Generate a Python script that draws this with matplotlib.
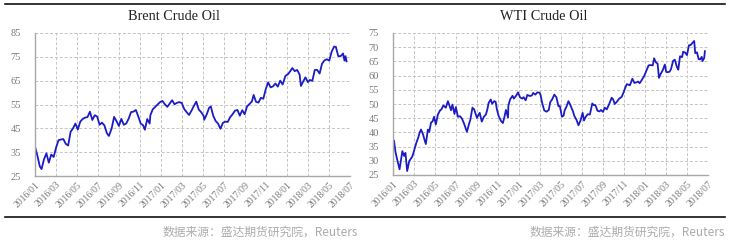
import matplotlib
matplotlib.use("Agg")
import matplotlib.pyplot as plt
import pandas as pd
from matplotlib.lines import Line2D

brent_dates = [
    "2016-01-01", "2016-01-08", "2016-01-15", "2016-01-20", "2016-01-27", "2016-02-03", "2016-02-10",
    "2016-02-17", "2016-02-24", "2016-03-02", "2016-03-09", "2016-03-16", "2016-03-23", "2016-03-30",
    "2016-04-06", "2016-04-13", "2016-04-20", "2016-04-27", "2016-05-04", "2016-05-11", "2016-05-18",
    "2016-05-25", "2016-06-01", "2016-06-08", "2016-06-15", "2016-06-22", "2016-06-29", "2016-07-06",
    "2016-07-13", "2016-07-20", "2016-07-27", "2016-08-02", "2016-08-10", "2016-08-17", "2016-08-24",
    "2016-08-31", "2016-09-07", "2016-09-14", "2016-09-21", "2016-09-28", "2016-10-05", "2016-10-12",
    "2016-10-19", "2016-10-26", "2016-11-02", "2016-11-09", "2016-11-14", "2016-11-21", "2016-11-28",
    "2016-11-30", "2016-12-07", "2016-12-14", "2016-12-21", "2016-12-28", "2017-01-04", "2017-01-11",
    "2017-01-18", "2017-01-25", "2017-02-01", "2017-02-08", "2017-02-15", "2017-02-22", "2017-03-01",
    "2017-03-08", "2017-03-15", "2017-03-22", "2017-03-29", "2017-04-05", "2017-04-12", "2017-04-19",
    "2017-04-26", "2017-05-03", "2017-05-05", "2017-05-12", "2017-05-19", "2017-05-24", "2017-05-31",
    "2017-06-07", "2017-06-14", "2017-06-21", "2017-06-28", "2017-07-05", "2017-07-12", "2017-07-19",
    "2017-07-26", "2017-08-02", "2017-08-09", "2017-08-16", "2017-08-23", "2017-08-30", "2017-09-06",
    "2017-09-13", "2017-09-20", "2017-09-25", "2017-10-02", "2017-10-09", "2017-10-16", "2017-10-23",
    "2017-10-30", "2017-11-06", "2017-11-13", "2017-11-20", "2017-11-27", "2017-12-04", "2017-12-11",
    "2017-12-18", "2017-12-26", "2018-01-03", "2018-01-10", "2018-01-15", "2018-01-22", "2018-01-29",
    "2018-02-05", "2018-02-09", "2018-02-16", "2018-02-22", "2018-03-01", "2018-03-07", "2018-03-14",
    "2018-03-21", "2018-03-28", "2018-04-04", "2018-04-11", "2018-04-18", "2018-04-25", "2018-05-02",
    "2018-05-09", "2018-05-16", "2018-05-21", "2018-05-28", "2018-06-04", "2018-06-11", "2018-06-15",
    "2018-06-18", "2018-06-21",
]
brent_values = [
    37.3, 33.5, 29.0, 27.9, 32.0, 34.5, 30.6,
    34.0, 33.0, 36.9, 40.0, 40.3, 40.5, 38.5,
    37.8, 43.5, 45.0, 47.0, 44.5, 47.8, 48.9,
    49.5, 49.7, 52.0, 48.5, 50.5, 49.9, 46.5,
    47.4, 46.2, 43.0, 41.8, 45.0, 49.8, 48.0,
    46.0, 49.0, 46.5, 47.0, 49.0, 51.8, 52.0,
    52.7, 50.0, 47.0, 46.3, 44.4, 48.9, 47.0,
    50.5, 53.0, 54.0, 55.0, 56.0, 56.5, 55.1,
    54.0, 55.4, 56.8, 55.1, 55.7, 56.0, 55.6,
    53.1, 51.8, 50.6, 52.4, 54.4, 56.2, 52.9,
    51.8, 50.3, 48.6, 50.8, 53.6, 54.2, 50.3,
    48.1, 47.0, 44.8, 47.3, 47.8, 47.7, 49.7,
    50.9, 52.4, 52.7, 50.3, 52.6, 50.9, 54.2,
    55.2, 56.3, 59.0, 56.1, 55.8, 57.8, 57.4,
    61.4, 64.3, 62.2, 62.6, 63.8, 62.5, 65.0,
    63.4, 67.0, 67.8, 69.2, 70.3, 69.0, 69.5,
    67.6, 62.8, 64.8, 66.4, 64.4, 65.3, 64.9,
    69.5, 69.5, 68.0, 72.1, 73.5, 74.0, 73.4,
    77.2, 79.3, 79.2, 75.3, 75.3, 76.4, 73.4,
    75.3, 73.1,
]

wti_dates = [
    "2016-01-04", "2016-01-08", "2016-01-13", "2016-01-20", "2016-01-28", "2016-02-02", "2016-02-06",
    "2016-02-11", "2016-02-17", "2016-02-26", "2016-03-04", "2016-03-09", "2016-03-14", "2016-03-18",
    "2016-03-22", "2016-03-28", "2016-04-01", "2016-04-05", "2016-04-11", "2016-04-15", "2016-04-20",
    "2016-04-25", "2016-04-29", "2016-05-04", "2016-05-10", "2016-05-16", "2016-05-20", "2016-05-26",
    "2016-06-02", "2016-06-08", "2016-06-13", "2016-06-17", "2016-06-21", "2016-06-27", "2016-07-01",
    "2016-07-07", "2016-07-13", "2016-07-19", "2016-07-25", "2016-08-02", "2016-08-08", "2016-08-12",
    "2016-08-18", "2016-08-23", "2016-08-31", "2016-09-08", "2016-09-14", "2016-09-20", "2016-09-26",
    "2016-09-30", "2016-10-04", "2016-10-10", "2016-10-14", "2016-10-20", "2016-10-24", "2016-10-28",
    "2016-11-02", "2016-11-09", "2016-11-14", "2016-11-18", "2016-11-23", "2016-11-29", "2016-11-30",
    "2016-12-05", "2016-12-12", "2016-12-16", "2016-12-23", "2016-12-28", "2017-01-03", "2017-01-09",
    "2017-01-13", "2017-01-19", "2017-01-24", "2017-01-31", "2017-02-06", "2017-02-10", "2017-02-16",
    "2017-02-22", "2017-02-28", "2017-03-03", "2017-03-08", "2017-03-14", "2017-03-21", "2017-03-27",
    "2017-03-31", "2017-04-06", "2017-04-12", "2017-04-18", "2017-04-24", "2017-04-28", "2017-05-04",
    "2017-05-09", "2017-05-12", "2017-05-17", "2017-05-23", "2017-05-29", "2017-06-05", "2017-06-09",
    "2017-06-15", "2017-06-21", "2017-06-27", "2017-07-03", "2017-07-07", "2017-07-12", "2017-07-18",
    "2017-07-24", "2017-07-31", "2017-08-04", "2017-08-09", "2017-08-15", "2017-08-21", "2017-08-25",
    "2017-08-31", "2017-09-05", "2017-09-11", "2017-09-18", "2017-09-25", "2017-09-29", "2017-10-04",
    "2017-10-10", "2017-10-17", "2017-10-24", "2017-10-30", "2017-11-03", "2017-11-08", "2017-11-13",
    "2017-11-17", "2017-11-24", "2017-11-30", "2017-12-05", "2017-12-11", "2017-12-15", "2017-12-21",
    "2017-12-28", "2018-01-04", "2018-01-10", "2018-01-16", "2018-01-22", "2018-01-26", "2018-01-31",
    "2018-02-05", "2018-02-09", "2018-02-14", "2018-02-20", "2018-02-26", "2018-03-02", "2018-03-07",
    "2018-03-12", "2018-03-16", "2018-03-22", "2018-03-27", "2018-04-02", "2018-04-06", "2018-04-11",
    "2018-04-17", "2018-04-20", "2018-04-26", "2018-05-01", "2018-05-07", "2018-05-11", "2018-05-17",
    "2018-05-22", "2018-05-25", "2018-05-30", "2018-06-04", "2018-06-08", "2018-06-13", "2018-06-15",
    "2018-06-20", "2018-06-22",
]
wti_values = [
    37.0, 33.2, 30.5, 27.0, 33.4, 31.7, 32.8,
    26.4, 29.9, 31.5, 34.5, 36.5, 38.1, 39.9,
    41.0, 39.3, 37.5, 35.9, 41.0, 40.2, 43.4,
    44.0, 45.5, 42.8, 46.3, 47.7, 48.1, 49.5,
    48.7, 51.0, 49.2, 47.8, 49.8, 46.5, 48.9,
    45.5, 45.7, 44.8, 43.0, 40.2, 42.9, 44.5,
    48.7, 48.1, 45.1, 46.9, 43.8, 45.5, 46.3,
    48.0, 50.4, 51.6, 50.1, 51.0, 50.8, 48.0,
    45.7, 44.0, 43.3, 45.1, 47.9, 45.2, 49.4,
    51.6, 52.9, 51.9, 53.0, 54.1, 52.3, 51.9,
    52.4, 51.3, 53.2, 52.8, 53.0, 53.9, 53.3,
    54.1, 54.0, 53.3, 50.3, 47.7, 47.3, 47.9,
    50.6, 51.7, 53.3, 52.4, 49.2, 49.3, 45.5,
    45.9, 47.8, 49.0, 51.0, 49.5, 47.4, 45.8,
    44.5, 42.5, 44.2, 46.9, 44.2, 45.5, 46.4,
    46.3, 50.2, 49.6, 49.6, 47.6, 47.4, 47.9,
    47.2, 48.7, 48.1, 50.0, 52.2, 51.7, 50.0,
    50.8, 51.9, 52.5, 54.2, 55.6, 57.0, 56.8,
    56.6, 58.9, 57.4, 57.6, 57.9, 57.3, 58.4,
    59.8, 61.9, 63.6, 63.7, 63.6, 66.1, 64.7,
    64.2, 59.2, 60.6, 61.9, 63.9, 61.3, 61.2,
    61.4, 62.3, 65.2, 65.6, 63.0, 62.1, 66.8,
    66.5, 68.4, 68.1, 67.2, 70.7, 70.7, 71.5,
    72.2, 67.9, 68.2, 65.8, 65.7, 66.6, 65.1,
    66.2, 68.6,
]

tick_labels = ["2016/01", "2016/03", "2016/05", "2016/07", "2016/09", "2016/11",
               "2017/01", "2017/03", "2017/05", "2017/07", "2017/09", "2017/11",
               "2018/01", "2018/03", "2018/05", "2018/07"]
brent_yticks = [25, 35, 45, 55, 65, 75, 85]
wti_yticks = [25, 30, 35, 40, 45, 50, 55, 60, 65, 70, 75]

plt.rcParams['font.family'] = ['Liberation Serif', 'DejaVu Serif']

W, H = 731, 242
fig = plt.figure(figsize=(W / 100, H / 100), dpi=100)
fig.patch.set_facecolor('white')

line_color = '#1c1cc4'
grid_color = '#c4c4c4'
spine_color = '#a8a8a8'
label_color = '#7a7a7a'


def make_panel(rect, dates, values, yticks, title, title_x):
    ax = fig.add_axes(rect)
    x = pd.to_datetime(dates)
    ax.plot(x, values, color=line_color, lw=1.3, solid_joinstyle='round')
    ticks = pd.to_datetime([t.replace('/', '-') + '-01' for t in tick_labels])
    ax.set_xticks(ticks)
    ax.set_xticklabels(tick_labels, rotation=45, ha='right', va='top',
                       rotation_mode='anchor', fontsize=7, color=label_color)
    ax.set_xlim(ticks[0], ticks[-1])
    ax.set_yticks(yticks)
    ax.set_yticklabels([str(v) for v in yticks], fontsize=7.5, color=label_color)
    ax.set_ylim(yticks[0], yticks[-1])
    ax.grid(True, color=grid_color, linestyle=(0, (3, 2)), lw=0.7)
    for s in ['top', 'right']:
        ax.spines[s].set_visible(False)
    for s in ['left', 'bottom']:
        ax.spines[s].set_color(spine_color)
        ax.spines[s].set_linewidth(1.0)
    ax.tick_params(axis='y', length=0, pad=10)
    ax.tick_params(axis='x', length=0, pad=3)
    fig.text(title_x / W, 1 - 16 / H, title, ha='center', va='center',
             fontsize=10.3, color='#222222')
    return ax


make_panel([35 / W, 1 - 176 / H, 315 / W, 143 / H], brent_dates, brent_values,
           brent_yticks, 'Brent Crude Oil', 174)
make_panel([393 / W, 1 - 175 / H, 315 / W, 142 / H], wti_dates, wti_values,
           wti_yticks, 'WTI Crude Oil', 544)

# separator rules
fig.add_artist(Line2D([5 / W, 725 / W], [1 - 4 / H, 1 - 4 / H], color='#111111', lw=1.2,
                      transform=fig.transFigure))
fig.add_artist(Line2D([5 / W, 725 / W], [1 - 217 / H, 1 - 217 / H], color='#111111', lw=1.2,
                      transform=fig.transFigure))

src = '数据来源：盛达期货研究院，Reuters'
for xr in [358 / W, 725 / W]:
    fig.text(xr, 1 - 232 / H, src, ha='right', va='center', fontsize=8.5,
             color='#ababab', style='italic',
             family=['Noto Sans CJK SC', 'DejaVu Sans'])

fig.savefig('out.png', dpi=100, facecolor='white')
